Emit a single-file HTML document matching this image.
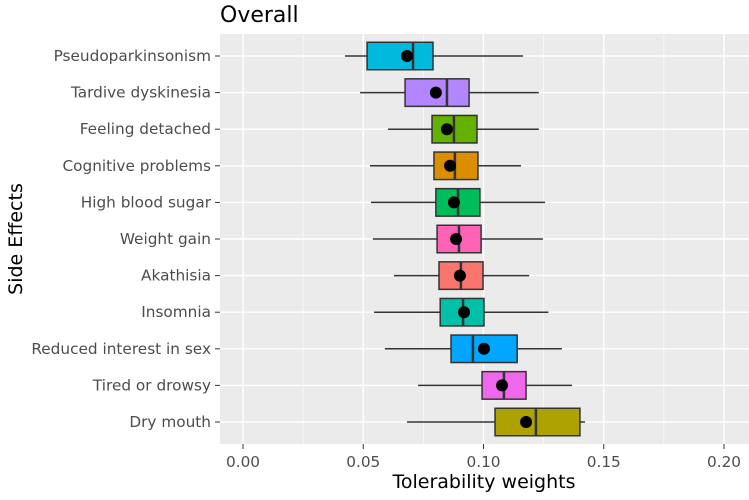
<!DOCTYPE html>
<html><head><meta charset="utf-8"><style>
body{margin:0;background:#fff;}
svg text{font-family:"DejaVu Sans","Liberation Sans",sans-serif;}
</style></head><body>
<svg id="chart" width="749" height="495" xmlns="http://www.w3.org/2000/svg">
<text x="220" y="22" font-size="22" fill="#000">Overall</text>
<rect x="220" y="34" width="529" height="410" fill="#EBEBEB"/>
<g id="grid"></g><g id="boxes"></g><g id="axes"></g>
<text x="484" y="488" font-size="19" fill="#000" text-anchor="middle">Tolerability weights</text>
<text transform="translate(22,239) rotate(-90)" font-size="19" fill="#000" text-anchor="middle">Side Effects</text>
</svg>
<script>
const categories=["Pseudoparkinsonism","Tardive dyskinesia","Feeling detached","Cognitive problems","High blood sugar","Weight gain","Akathisia","Insomnia","Reduced interest in sex","Tired or drowsy","Dry mouth"];
const whiskerLow=[0.0424,0.0487,0.0603,0.0528,0.0532,0.054,0.0628,0.0545,0.059,0.0728,0.0682];
const q1=[0.0516,0.0674,0.0786,0.0794,0.0802,0.0807,0.0815,0.082,0.0865,0.0994,0.1048];
const median=[0.0707,0.0848,0.0877,0.0881,0.0894,0.0898,0.0906,0.0915,0.0956,0.1085,0.1218];
const q3=[0.079,0.094,0.0973,0.0977,0.0985,0.099,0.0998,0.1002,0.114,0.1177,0.1401];
const whiskerHigh=[0.1164,0.123,0.123,0.1156,0.1256,0.1247,0.119,0.127,0.1326,0.1368,0.1422];
const means=[0.0682,0.0802,0.0848,0.0861,0.0877,0.0886,0.0902,0.0919,0.1002,0.1077,0.1177];
const colors=["#00BADE","#B385FF","#64B200","#DB8E00","#00BD5C","#FF63B6","#F8766D","#00C1A7","#00A6FF","#EF67EB","#AEA200"];
const xTicks=[0,0.05,0.1,0.15,0.2];
const xTickLabels=["0.00","0.05","0.10","0.15","0.20"];
const NS="http://www.w3.org/2000/svg";
const x=v=>243+v*2405;
const y=i=>56+i*36.6;
function mk(parent,tag,attrs){const e=document.createElementNS(NS,tag);for(const k in attrs)e.setAttribute(k,attrs[k]);document.getElementById(parent).appendChild(e);return e;}
for(let t=0;t<0.21;t+=0.025){const e=mk('grid','line',{x1:x(t),x2:x(t),y1:34,y2:444,stroke:'#fff','stroke-width':Math.abs(t/0.05-Math.round(t/0.05))<0.01?1.4:0.6});

}
categories.forEach((c,i)=>{const e=mk('grid','line',{x1:220,x2:749,y1:y(i),y2:y(i),stroke:'#fff','stroke-width':1.4});

});
categories.forEach((c,i)=>{
const cy=y(i),h=27.5;
const w=mk('boxes','line',{x1:x(whiskerLow[i]),x2:x(whiskerHigh[i]),y1:cy,y2:cy,stroke:'#333','stroke-width':1.5});


const b=mk('boxes','rect',{x:x(q1[i]),y:cy-h/2,width:x(q3[i])-x(q1[i]),height:h,fill:colors[i],stroke:'#333','stroke-width':1.5});


const m=mk('boxes','line',{x1:x(median[i]),x2:x(median[i]),y1:cy-h/2,y2:cy+h/2,stroke:'#333','stroke-width':2.5});


const p=mk('boxes','circle',{cx:x(means[i]),cy:cy,r:6,fill:'#000'});


const tk=mk('axes','line',{x1:215,x2:220,y1:cy,y2:cy,stroke:'#333','stroke-width':1});


const t=mk('axes','text',{x:211,y:cy+5,'font-size':15.3,fill:'#4D4D4D','text-anchor':'end'});
t.textContent=c;


});
xTicks.forEach((v,i)=>{
const tk=mk('axes','line',{x1:x(v),x2:x(v),y1:444,y2:449,stroke:'#333','stroke-width':1});


const t=mk('axes','text',{x:x(v),y:467,'font-size':15.3,fill:'#4D4D4D','text-anchor':'middle'});
t.textContent=xTickLabels[i];


});
</script>
</body></html>
